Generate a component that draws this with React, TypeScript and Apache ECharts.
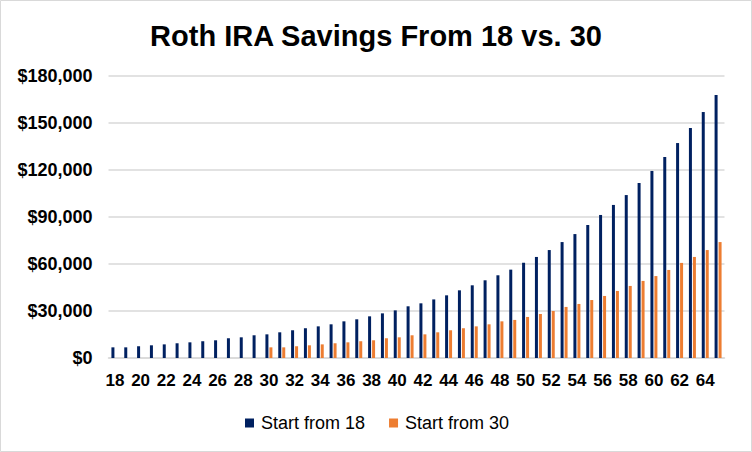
import React, { useEffect, useRef } from "react";
import * as echarts from "echarts";

const ages: string[] = [];
for (let a = 18; a <= 65; a++) ages.push(String(a));

const start18: number[] = [
  6800, 6800, 7500, 8100, 8700, 9400, 10000, 10700, 11300, 12600, 13200, 14500,
  15100, 16400, 17700, 19000, 20200, 21500, 23400, 24700, 26600, 28500, 30400, 33000,
  34900, 37400, 40000, 43200, 46400, 49600, 52800, 56400, 60800, 64500, 68900, 74000,
  79100, 84900, 91300, 97700, 104000, 111700, 119400, 128300, 137200, 146800, 157000, 167900,
];

const start30: (number | null)[] = [
  null, null, null, null, null, null, null, null, null, null, null, null,
  6800, 6800, 7500, 8100, 8700, 9400, 10000, 10700, 11300, 12600, 13200, 14500,
  15100, 16400, 17700, 19000, 20200, 21500, 23400, 24300, 26200, 28100, 30000, 32600,
  34500, 37000, 39600, 42800, 46000, 49200, 52300, 56200, 60700, 64500, 68900, 74000,
];

const yTicks = { min: 0, max: 180000, interval: 30000 };

export default function App() {
  const ref = useRef<HTMLDivElement>(null);
  useEffect(() => {
    if (!ref.current) return;
    const chart = echarts.init(ref.current, null, { renderer: "svg" });
    const font = "'Liberation Sans', Arial, sans-serif";
    chart.setOption({
      animation: false,
      backgroundColor: "#ffffff",
      textStyle: { fontFamily: font },
      title: {
        text: "Roth IRA Savings From 18 vs. 30",
        left: "center",
        top: 16,
        textStyle: { fontFamily: font, fontSize: 29, fontWeight: "bold", color: "#000000" },
      },
      graphic: [
        {
          type: "rect",
          shape: { x: 0.5, y: 0.5, width: 751, height: 451 },
          style: { fill: "none", stroke: "#d9d9d9", lineWidth: 1 },
          silent: true,
        },
      ],
      legend: {
        top: 409,
        left: 240,
        itemWidth: 9,
        itemHeight: 9,
        itemGap: 24,
        icon: "rect",
        textStyle: { fontFamily: font, fontSize: 18, color: "#000000", padding: [0, 0, 0, 2] },
        data: ["Start from 18", "Start from 30"],
      },
      grid: { left: 108.5, right: 27.5, top: 76, bottom: 94, containLabel: false },
      xAxis: {
        type: "category",
        data: ages,
        axisTick: { show: false },
        axisLine: { lineStyle: { color: "#d9d9d9", width: 1.5 } },
        axisLabel: {
          interval: 1,
          color: "#000000",
          fontFamily: font,
          fontSize: 17,
          fontWeight: "bold",
          margin: 14,
        },
      },
      yAxis: {
        type: "value",
        min: yTicks.min,
        max: yTicks.max,
        interval: yTicks.interval,
        axisLine: { show: false },
        axisTick: { show: false },
        splitLine: { lineStyle: { color: "#d9d9d9", width: 1.5 } },
        axisLabel: {
          color: "#000000",
          fontFamily: font,
          fontSize: 18,
          fontWeight: "bold",
          margin: 16,
          formatter: (v: number) => "$" + v.toLocaleString("en-US"),
        },
      },
      series: [
        {
          name: "Start from 18",
          type: "bar",
          data: start18,
          barWidth: 3,
          barGap: "33%",
          itemStyle: { color: "#002060" },
        },
        {
          name: "Start from 30",
          type: "bar",
          data: start30,
          barWidth: 3,
          itemStyle: { color: "#ED7D31" },
        },
      ],
    });
    return () => chart.dispose();
  }, []);
  return (
    <div
      ref={ref}
      style={{ position: "fixed", left: 0, top: 0, width: 752, height: 452 }}
    />
  );
}
